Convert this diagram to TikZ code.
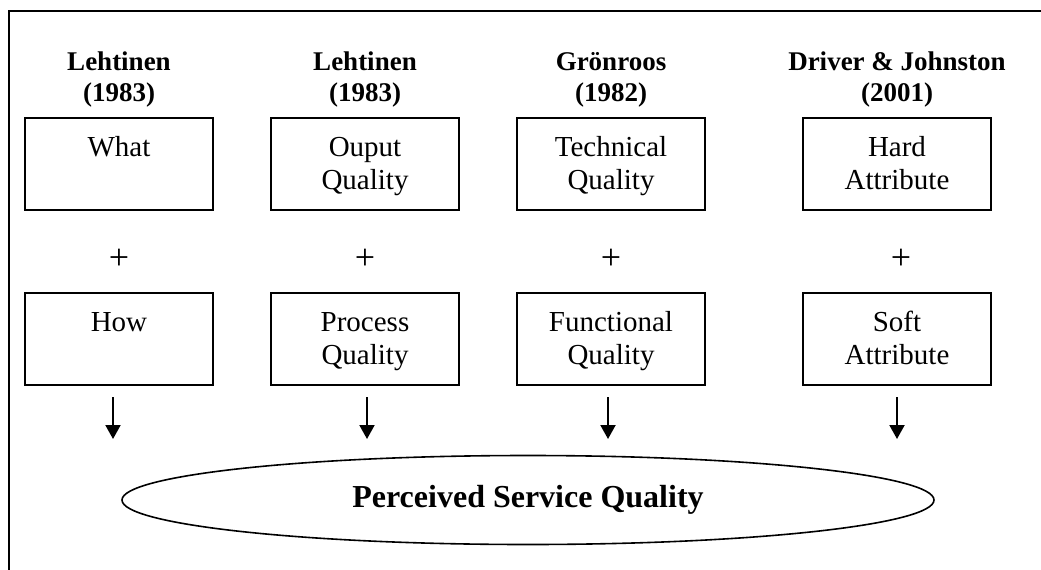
\documentclass[tikz,border=0pt]{standalone}
\usepackage{fontspec}
\setmainfont{Liberation Serif}
\usetikzlibrary{positioning,arrows.meta,shapes.geometric}

\begin{document}
\begin{tikzpicture}[x=1pt,y=1pt,
box/.style={rectangle, draw, line width=2pt, text width=188pt, inner xsep=0pt, inner ysep=0pt, text height=38pt, text depth=54pt, align=center, font=\fontsize{29}{33}\selectfont},
author/.style={align=center, inner sep=0pt, font=\fontsize{27}{31}\selectfont\bfseries},
plus/.style={inner sep=0pt, font=\fontsize{36}{36}\selectfont},
arr/.style={-{Triangle[length=14pt,width=15pt]}, line width=2pt},
oval/.style={ellipse, draw, line width=1.6pt, minimum width=812pt, minimum height=89pt, inner sep=0pt, font=\fontsize{32}{32}\selectfont\bfseries}]

\useasboundingbox (0,0) rectangle (1041,-570);

% outer frame, only the top and left edges show
\draw[line width=2pt] (9,-575) -- (9,-11) -- (1046,-11);

\node[box, anchor=north] (what) at (119,-117) {What};

\node[box, right=56pt of what] (output) {Ouput\\Quality};

\node[box, right=56pt of output] (technical) {Technical\\Quality};

\node[box, right=96pt of technical] (hard) {Hard\\Attribute};

\node[author, above=10pt of what] (lehtinenA) {Lehtinen\\(1983)};

\node[author, above=10pt of output] (lehtinenB) {Lehtinen\\(1983)};

\node[author, above=10pt of technical] (gronroos) {Grönroos\\(1982)};

\node[author, above=10pt of hard] (driver) {Driver \& Johnston\\(2001)};

\node[box, below=81pt of what] (how) {How};

\node[box, below=81pt of output] (process) {Process\\Quality};

\node[box, below=81pt of technical] (functional) {Functional\\Quality};

\node[box, below=81pt of hard] (soft) {Soft\\Attribute};

\node[plus] (plusA) at ([yshift=-48pt]what.south) {+};

\node[plus] (plusB) at ([yshift=-48pt]output.south) {+};

\node[plus] (plusC) at ([yshift=-48pt]technical.south) {+};

\node[plus] (plusD) at ([xshift=4pt,yshift=-48pt]hard.south) {+};

\node[oval] (perceived) at (528,-500) {Perceived Service Quality};

\draw[arr] ([xshift=-6pt,yshift=-11pt]how.south) -- ([xshift=-6pt,yshift=-53pt]how.south);

\draw[arr] ([xshift=2pt,yshift=-11pt]process.south) -- ([xshift=2pt,yshift=-53pt]process.south);

\draw[arr] ([xshift=-3pt,yshift=-11pt]functional.south) -- ([xshift=-3pt,yshift=-53pt]functional.south);

\draw[arr] ([yshift=-11pt]soft.south) -- ([yshift=-53pt]soft.south);

\end{tikzpicture}
\end{document}
